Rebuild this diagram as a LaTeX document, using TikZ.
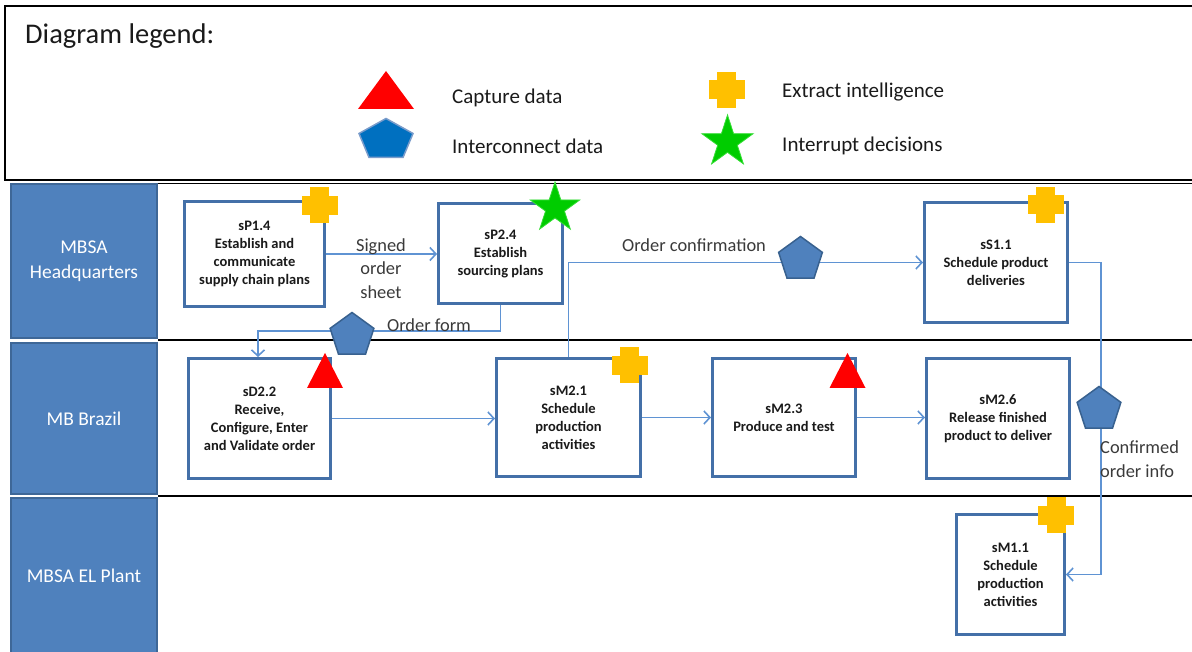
\documentclass[tikz,border=0pt]{standalone}
\usepackage{fontspec}
\setmainfont{Carlito}
\usetikzlibrary{arrows.meta,shapes.geometric}

\definecolor{hdrblue}{HTML}{4F81BD}
\definecolor{hdrborder}{HTML}{3E6797}
\definecolor{boxblue}{HTML}{4470A8}
\definecolor{connblue}{HTML}{5F93D3}
\definecolor{pentblue}{HTML}{4F81BD}
\definecolor{pentborder}{HTML}{38618F}
\definecolor{legpent}{HTML}{0070C0}
\definecolor{legpentrim}{HTML}{7A9CCB}
\definecolor{capred}{HTML}{FF0000}
\definecolor{plusyellow}{HTML}{FFC000}
\definecolor{stargreen}{HTML}{00CC00}
\definecolor{starrim}{HTML}{33DD33}
\definecolor{labelgray}{HTML}{3A3A3A}
\definecolor{inkdark}{HTML}{1A1A1A}

\begin{document}
\begin{tikzpicture}[x=1pt,y=-1pt,
  lanehdr/.style={draw=hdrborder, line width=1.5pt, fill=hdrblue, text=white,
    align=center, inner sep=0, font=\fontsize{19.5}{24.5}\selectfont},
  proc/.style={draw=boxblue, line width=3pt, fill=white, align=center, inner sep=0,
    text=inkdark, font=\bfseries\fontsize{14.5}{18}\selectfont},
  conn/.style={draw=connblue, line width=1.6pt,
    -{Straight Barb[length=6pt,width=13pt,line width=1.6pt]}},
  flowlbl/.style={text=labelgray, inner sep=0, align=center,
    font=\fontsize{18.4}{23.5}\selectfont},
  legtext/.style={anchor=west, inner sep=0, text=inkdark,
    font=\fontsize{21}{25}\selectfont},
  pent/.style={regular polygon, regular polygon sides=5, minimum size=46pt,
    inner sep=0, fill=pentblue, draw=pentborder, line width=1.5pt},
  datastar/.style={star, star points=5, star point ratio=2.618, inner sep=0,
    fill=stargreen, draw=starrim, line width=0.8pt},
  plusicon/.pic={
    \fill[plusyellow] (-18,-9.5) rectangle (18,9.5);
    \fill[plusyellow] (-9.5,-18) rectangle (9.5,18);
  },
  captri/.pic={
    \fill[capred] (0,-17.5) -- (18,17.5) -- (-18,17.5) -- cycle;
  },
]
\useasboundingbox (0,0) rectangle (1192,652);
\fill[white] (0,0) rectangle (1192,652);

% ---------- legend ----------
\draw[line width=2.2pt, black] (5,6) rectangle (1200,180);
\node[legtext, font=\fontsize{28.5}{32}\selectfont] (legtitle) at (25,36) {Diagram legend:};

\fill[capred] (386,71) -- (414,109) -- (358,109) -- cycle;
\node[legtext] (legcap) at (452,98) {Capture data};

\filldraw[fill=legpent, draw=legpentrim, line width=1.5pt]
  (386,118.5) -- (413,133.5) -- (403,157.5) -- (369,157.5) -- (359,133.5) -- cycle;
\node[legtext] (legint) at (452,146) {Interconnect data};

\pic at (726.5,90) {plusicon};
\node[legtext] (legext) at (782,92) {Extract intelligence};

\node[datastar, minimum size=54pt] (legstar) at (727.5,142) {};
\node[legtext] (legdec) at (782,146) {Interrupt decisions};

% ---------- swimlane rules ----------
\draw[line width=1.8pt] (158,183.5) -- (1200,183.5);
\draw[line width=2.4pt] (158,340) -- (1200,340);
\draw[line width=2.4pt] (158,496) -- (1200,496);

% ---------- lane headers ----------
\node[lanehdr, minimum width=146pt, minimum height=154pt] (hq) at (84,261) {MBSA\\Headquarters};
\node[lanehdr, minimum width=146pt, minimum height=151pt] (br) at (84,418.5) {MB Brazil};
\node[lanehdr, minimum width=146pt, minimum height=156pt] (el) at (84,576) {MBSA EL Plant};

% ---------- process steps ----------
\node[proc, minimum width=140pt, minimum height=105pt] (sP14) at (254.5,254)
  {sP1.4\\Establish and\\communicate\\supply chain plans};
\node[proc, minimum width=124pt, minimum height=100pt] (sP24) at (500.5,253.5)
  {sP2.4\\Establish\\sourcing plans};
\node[proc, minimum width=143pt, minimum height=120pt] (sS11) at (996,262.5)
  {sS1.1\\Schedule product\\deliveries};
\node[proc, minimum width=142pt, minimum height=120pt] (sD22) at (259.5,418.5)
  {sD2.2\\Receive,\\Configure, Enter\\and Validate order};
\node[proc, minimum width=144pt, minimum height=118pt] (sM21) at (568.5,417.5)
  {sM2.1\\Schedule\\production\\activities};
\node[proc, minimum width=143pt, minimum height=118pt] (sM23) at (784,417.5)
  {sM2.3\\Produce and test};
\node[proc, minimum width=143pt, minimum height=120pt] (sM26) at (998,418.5)
  {sM2.6\\Release finished\\product to deliver};
\node[proc, minimum width=108pt, minimum height=120pt] (sM11) at (1010.5,574.5)
  {sM1.1\\Schedule\\production\\activities};

% ---------- flows ----------
\draw[conn] (sP14.east) -- (sP14.east -| sP24.west);
\coordinate (ofbend) at (258,331);
\draw[conn] (sP24.south) |- (ofbend) -- (ofbend |- sD22.north);
\draw[conn] (sM21.north) |- (sS11.west);
\coordinate (rail) at (1101,262.5);
\draw[conn] (sS11.east) -- (rail) |- (sM11.east);
\draw[conn] (sD22.east) -- (sD22.east -| sM21.west);
\draw[conn] (sM21.east) -- (sM21.east -| sM23.west);
\draw[conn] (sM23.east) -- (sM23.east -| sM26.west);

% ---------- flow labels ----------
\node[flowlbl] (lsigned) at (381,268.5) {Signed\\order\\sheet};
\node[flowlbl] (lform) at (429,325) {Order form};
\node[flowlbl] (lconf) at (694,245) {Order confirmation};
\node[flowlbl, anchor=west, align=left] (linfo) at (1100,459) {Confirmed\\order info};

% ---------- markers ----------
\node[pent] (pOF) at (352,335.5) {};
\node[pent] (pOC) at (800.5,259.5) {};
\node[pent] (pCO) at (1099,409.5) {};

\pic at (319.5,205.5) {plusicon};
\pic at (1045.5,205) {plusicon};
\pic at (629.5,365.5) {plusicon};
\pic at (1056,515) {plusicon};

\pic at (325,370.5) {captri};
\pic at (847.5,370.5) {captri};

\node[datastar, minimum size=52pt] (sP24star) at (555,208) {};
\end{tikzpicture}
\end{document}
